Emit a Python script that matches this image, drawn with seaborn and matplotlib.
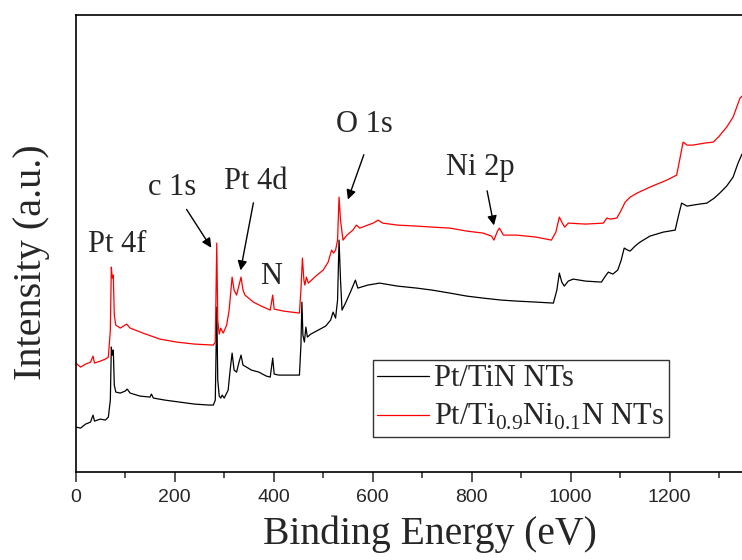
import numpy as np
import pandas as pd
import seaborn as sns
import matplotlib.pyplot as plt
from matplotlib.ticker import MultipleLocator

# XPS survey spectra (binding energy in eV, intensity in a.u.)
energy_tin = [0, 10, 20, 30, 35, 38, 50, 60, 66, 70, 72, 74, 76, 78, 81, 90, 100, 104, 110,
              130, 150, 153, 157, 180, 210, 240, 270, 278, 282, 285, 287, 290, 293, 296, 300,
              308, 312, 316, 320, 325, 330, 334, 338, 345, 355, 370, 385, 393, 398, 401, 410,
              430, 452, 455, 457, 459, 462, 465, 468, 475, 490, 505, 515, 520, 525, 529, 532,
              535, 538, 545, 555, 565, 570, 590, 614, 650, 689, 720, 756, 790, 823, 860, 891,
              930, 965, 972, 977, 982, 987, 995, 1005, 1030, 1062, 1070, 1076, 1085, 1095,
              1102, 1108, 1115, 1120, 1130, 1140, 1160, 1187, 1211, 1218, 1224, 1235, 1247,
              1260, 1275, 1290, 1301, 1315, 1328, 1338, 1346]
intensity_tin = [45, 44, 48, 50, 57, 51, 53, 52, 55, 72, 125, 117, 122, 87, 80, 79, 81, 83, 79,
                 76, 75, 78, 74, 72, 70, 68, 67, 67, 72, 165, 92, 76, 74, 77, 74,
                 82, 102, 119, 102, 100, 110, 117, 107, 105, 102, 100, 96, 95, 114, 98, 97,
                 97, 97, 127, 170, 137, 130, 145, 135, 138, 142, 146, 152, 160, 154, 172, 232,
                 192, 162, 169, 180, 192, 184, 187, 189, 186, 184, 182, 179, 176, 174, 172, 171,
                 170, 169, 182, 199, 190, 186, 191, 193, 191, 190, 196, 200, 198, 202,
                 212, 224, 222, 221, 226, 230, 236, 240, 242, 257, 269, 266, 267,
                 268, 269, 274, 279, 286, 295, 309, 318]

energy_tini = [0, 10, 20, 30, 35, 38, 50, 60, 66, 70, 72, 74, 76, 78, 81, 90, 103, 110, 136,
               170, 204, 240, 278, 282, 285, 287, 290, 293, 298, 305, 310, 316, 320, 325, 330,
               334, 338, 342, 359, 375, 393, 398, 401, 420, 452, 455, 458, 461, 463, 466, 470,
               485, 500, 510, 517, 521, 525, 529, 532, 535, 540, 548, 560, 567, 574, 590, 601,
               611, 620, 650, 689, 720, 756, 790, 823, 840, 845, 852, 856, 864, 891, 930, 961,
               970, 977, 983, 988, 995, 1030, 1066, 1073, 1080, 1093, 1100, 1110, 1120, 1134,
               1160, 1194, 1214, 1220, 1227, 1235, 1247, 1270, 1288, 1300, 1315, 1328, 1342, 1346]
intensity_tini = [109, 105, 108, 110, 116, 109, 111, 113, 115, 142, 205, 194, 197, 157, 147, 144, 148, 144, 139,
                  133, 130, 128, 127, 130, 229, 152, 138, 144, 139, 147, 162, 195, 182, 177, 187,
                  195, 182, 177, 170, 166, 162, 177, 163, 161, 159, 182, 214, 192, 187, 195, 189,
                  196, 202, 210, 222, 219, 222, 232, 275, 252, 232, 237, 242, 247, 244, 247, 249,
                  252, 249, 247, 246, 245, 244, 241, 239, 236, 232, 241, 244, 237, 237, 235, 232,
                  240, 255, 249, 245, 249, 248, 249, 254, 253, 254, 260, 270, 275, 279,
                  285, 292, 297, 312, 330, 327, 327, 329, 330, 336, 345, 355, 374, 376]

label_tin = 'Pt/TiN NTs'
label_tini = r'Pt/Ti$_{\mathregular{0.9}}$Ni$_{\mathregular{0.1}}$N NTs'

peak_names = ['Pt 4f', 'c 1s', 'Pt 4d', 'N', 'O 1s', 'Ni 2p']
# text centre, arrow tail, arrow tip (None = no arrow)
peak_text = [(83, 228), (194, 285), (364, 291), (394, 196), (584, 348), (818, 305)]
arrow_tail = [None, (221, 265), (360, 272), None, (584, 320), (830, 284)]
arrow_tip = [None, (277, 222), (332, 199), None, (548, 270), (846, 244)]

sns.set_style('ticks')
plt.rcParams['font.family'] = ['Liberation Serif', 'DejaVu Serif']
plt.rcParams['mathtext.fontset'] = 'custom'
plt.rcParams['mathtext.rm'] = 'Liberation Serif'

df_tin = pd.DataFrame({'energy': energy_tin, 'intensity': intensity_tin})
df_tini = pd.DataFrame({'energy': energy_tini, 'intensity': intensity_tini})

fig = plt.figure(figsize=(7.42, 5.60), dpi=100)
ax = fig.add_axes([0.102, 0.157, 0.898, 0.816])

sns.lineplot(data=df_tin, x='energy', y='intensity', color='black', lw=0.9,
             estimator=None, label=label_tin, ax=ax)
sns.lineplot(data=df_tini, x='energy', y='intensity', color='red', lw=0.9,
             estimator=None, label=label_tini, ax=ax)

ax.set_xlim(0, 1346)
ax.set_ylim(0, 457)
ax.set_yticks([])
ax.xaxis.set_major_locator(MultipleLocator(200))
ax.xaxis.set_minor_locator(MultipleLocator(100))
ax.tick_params(axis='x', which='major', direction='out', length=7, width=1.1, pad=5, labelsize=14)
ax.tick_params(axis='x', which='minor', direction='out', length=4, width=1.1)
for lab in ax.get_xticklabels():
    lab.set_fontfamily('Liberation Sans')

for side in ['left', 'bottom', 'top']:
    ax.spines[side].set_linewidth(1.2)
    ax.spines[side].set_color('black')
ax.spines['right'].set_visible(False)

ax.set_xlabel('Binding Energy (eV)', fontsize=28.5)
ax.xaxis.set_label_coords(0.531, -0.096)
ax.set_ylabel('Intensity (a.u.)', fontsize=29)
ax.yaxis.set_label_coords(-0.038, 0.46)

for name, pos, tail, tip in zip(peak_names, peak_text, arrow_tail, arrow_tip):
    ax.text(pos[0], pos[1], name, fontsize=22, ha='center', va='center')
    if tail is not None:
        ax.annotate('', xy=tip, xytext=tail,
                    arrowprops=dict(arrowstyle='-|>', color='black', lw=1.0,
                                    mutation_scale=14))

leg = ax.legend(loc='lower left', bbox_to_anchor=(0.446, 0.0766), fontsize=22,
                frameon=True, fancybox=False, framealpha=1, edgecolor='#333333',
                borderpad=0.15, labelspacing=0.3, handlelength=1.7, handletextpad=0.15,
                borderaxespad=0)
leg.get_frame().set_linewidth(1.0)

fig.savefig('out.png', dpi=100)
